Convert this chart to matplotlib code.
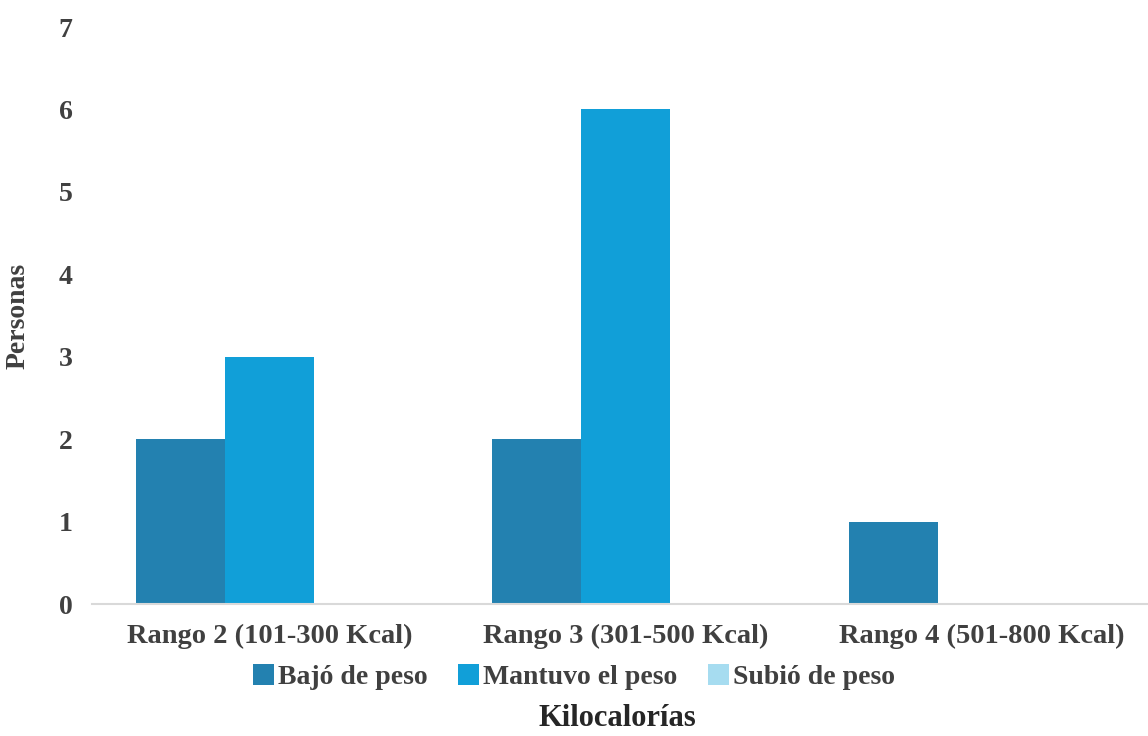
import matplotlib.pyplot as plt
import numpy as np
from matplotlib.patches import Patch

categorias = ["Rango 2 (101-300 Kcal)", "Rango 3 (301-500 Kcal)", "Rango 4 (501-800 Kcal)"]
series = ["Bajó de peso", "Mantuvo el peso", "Subió de peso"]
bajo = [2, 2, 1]
mantuvo = [3, 6, 0]
subio = [0, 0, 0]
colores = ["#2381B0", "#119FD8", "#A6DCF0"]

plt.rcParams['font.family'] = ['Liberation Serif', 'DejaVu Serif']
plt.rcParams['font.weight'] = 'bold'

fig = plt.figure(figsize=(11.48, 7.36), dpi=100)
ax = fig.add_axes([0.080, 0.1793, 0.92, 0.784])

x = np.arange(len(categorias))
ancho = 0.25
for i, (vals, col) in enumerate(zip([bajo, mantuvo, subio], colores)):
    ax.bar(x + (i - 1) * ancho, vals, width=ancho, color=col, linewidth=0)

ax.set_xlim(-0.5, 2.466)
ax.set_ylim(0, 7)
ax.set_yticks(range(0, 8))
ax.set_xticks(x)
ax.set_xticklabels(categorias, fontsize=20.5, color="#404040")
ax.tick_params(axis='y', labelsize=20, labelcolor="#404040", length=0, pad=14)
ax.tick_params(axis='x', length=0, pad=14)
for s in ['top', 'right', 'left']:
    ax.spines[s].set_visible(False)
ax.spines['bottom'].set_color("#D9D9D9")
ax.spines['bottom'].set_linewidth(1.5)

ax.set_ylabel("Personas", fontsize=20, color="#404040", fontweight='bold', labelpad=20)
fig.text(0.538, 0.014, "Kilocalorías", ha='center', fontsize=22, color="#262626", fontweight='bold')

handles = [Patch(facecolor=c, edgecolor='none') for c in colores]
fig.legend(handles, series, loc='center', bbox_to_anchor=(0.5, 0.080), ncol=3, frameon=False,
           fontsize=20, handlelength=0.75, handleheight=0.75, handletextpad=0.15, columnspacing=1.1,
           labelcolor="#404040")

fig.savefig("out.png", dpi=100)
